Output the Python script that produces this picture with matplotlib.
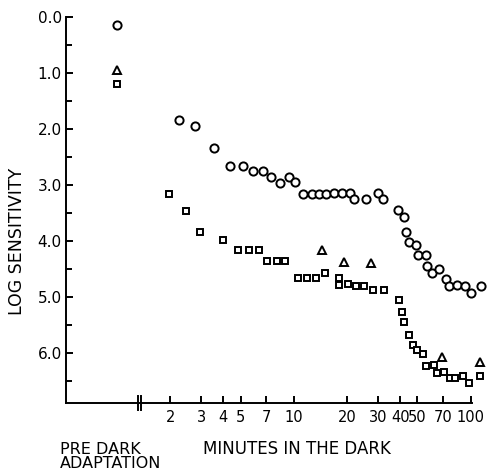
import matplotlib
matplotlib.use("Agg")
import matplotlib.pyplot as plt
import matplotlib.transforms as mtransforms
from matplotlib.ticker import FixedLocator, NullLocator, FixedFormatter

plt.rcParams['font.family'] = ['DejaVu Sans']

# Pre-dark adaptation values (plotted at x = 1 on the log axis, left of the break)
pre_x = [1.0]
pre_circle = [0.14]
pre_triangle = [0.95]
pre_square = [1.2]

# Minutes in the dark -- circles
circle_t = [2.25, 2.78, 3.52, 4.37, 5.15, 5.91, 6.68, 7.45, 8.4, 9.36, 10.2,
            11.3, 12.6, 13.8, 15.3, 16.8, 18.8, 20.8, 22.0, 25.6, 29.8, 31.8,
            38.7, 42.0, 43.1, 44.8, 48.9, 50.1, 55.7, 56.6, 60.2, 65.9, 72.5,
            75.4, 83.3, 92.8, 101, 114]
circle_s = [1.84, 1.94, 2.35, 2.67, 2.66, 2.76, 2.75, 2.86, 2.96, 2.86, 2.95,
            3.16, 3.16, 3.16, 3.16, 3.15, 3.15, 3.15, 3.26, 3.26, 3.15, 3.25,
            3.45, 3.57, 3.84, 4.03, 4.08, 4.25, 4.25, 4.45, 4.57, 4.51, 4.69,
            4.81, 4.79, 4.81, 4.94, 4.81]

# Squares
square_t = [1.96, 2.45, 2.97, 4.0, 4.84, 5.59, 6.34, 7.09, 8.05, 8.97, 10.5,
            11.8, 13.3, 15.0, 17.9, 18.1, 20.2, 22.6, 25.0, 27.9, 32.3, 39.2,
            40.9, 42.0, 44.7, 47.2, 50.0, 53.5, 55.9, 62.0, 64.2, 70.7, 76.6,
            81.8, 89.9, 97.3, 113]
square_s = [3.16, 3.46, 3.85, 3.98, 4.17, 4.17, 4.17, 4.37, 4.37, 4.37, 4.66,
            4.66, 4.66, 4.58, 4.66, 4.79, 4.78, 4.80, 4.80, 4.88, 4.88, 5.05,
            5.28, 5.46, 5.68, 5.86, 5.95, 6.03, 6.23, 6.22, 6.36, 6.35, 6.45,
            6.45, 6.42, 6.54, 6.42]

# Triangles
triangle_t = [14.5, 19.1, 27.2, 68.5, 113]
triangle_s = [4.16, 4.38, 4.39, 6.08, 6.17]

x_ticks = [2, 3, 4, 5, 7, 10, 20, 30, 40, 50, 70, 100]
x_tick_labels = ["2", "3", "4", "5", "7", "10", "20", "30", "40", "50", "70", "100"]
y_ticks = [0, 1, 2, 3, 4, 5, 6]
y_tick_labels = ["0.0", "1.0", "2.0", "3.0", "4.0", "5.0", "6.0"]
y_minor = [0.5, 1.5, 2.5, 3.5, 4.5, 5.5, 6.5]

W, H = 494, 472
fig = plt.figure(figsize=(W / 100, H / 100), dpi=100)
left_px, right_px, top_px, bottom_px = 66, 490, 17, 403
ax = fig.add_axes([left_px / W, 1 - bottom_px / H,
                   (right_px - left_px) / W, (bottom_px - top_px) / H])

ax.set_xscale('log')
ax.set_xlim(0.516, 128.5)
ax.set_ylim(6.9, 0.0)

mk = dict(linestyle='none', markerfacecolor='white', markeredgecolor='black',
          markeredgewidth=1.4, clip_on=False, zorder=3)
ax.plot(pre_x, pre_circle, marker='o', markersize=5.9, **mk)
ax.plot(pre_x, pre_triangle, marker='^', markersize=5.9, **mk)
ax.plot(pre_x, pre_square, marker='s', markersize=5.0, **mk)
ax.plot(circle_t, circle_s, marker='o', markersize=5.9, **mk)
ax.plot(square_t, square_s, marker='s', markersize=5.0, **mk)
ax.plot(triangle_t, triangle_s, marker='^', markersize=5.9, **mk)

for s in ['top', 'right']:
    ax.spines[s].set_visible(False)
ax.spines['left'].set_linewidth(1.4)
ax.spines['bottom'].set_linewidth(1.4)
ax.spines['bottom'].set_bounds(0.516, 102)

ax.xaxis.set_major_locator(FixedLocator(x_ticks))
ax.xaxis.set_major_formatter(FixedFormatter(x_tick_labels))
ax.xaxis.set_minor_locator(NullLocator())
ax.yaxis.set_major_locator(FixedLocator(y_ticks))
ax.yaxis.set_major_formatter(FixedFormatter(y_tick_labels))
ax.yaxis.set_minor_locator(FixedLocator(y_minor))

ax.tick_params(axis='both', which='major', direction='in', length=5, width=1.4,
               colors='black')
ax.tick_params(axis='y', which='major', labelsize=11, pad=3)
ax.tick_params(axis='x', which='major', labelsize=10.5, pad=5)
ax.tick_params(axis='y', which='minor', direction='in', length=4, width=1.4)

# axis break marker on the bottom axis
trans = mtransforms.blended_transform_factory(ax.transData, ax.transAxes)
for bx in [1.32, 1.37]:
    ax.plot([bx, bx], [-0.018, 0.018], color='black', lw=1.4, transform=trans,
            clip_on=False)

ax.set_ylabel("LOG SENSITIVITY", fontsize=12.5)
ax.yaxis.set_label_coords((26 - left_px) / (right_px - left_px),
                          (bottom_px - 241) / (bottom_px - top_px))

fig.text(60 / W, 1 - 471 / H, "PRE DARK\nADAPTATION", fontsize=11.5,
         ha='left', va='bottom', linespacing=0.95)
fig.text(203 / W, 1 - 454 / H, "MINUTES IN THE DARK", fontsize=12,
         ha='left', va='baseline')

fig.savefig("out.png", dpi=100)
